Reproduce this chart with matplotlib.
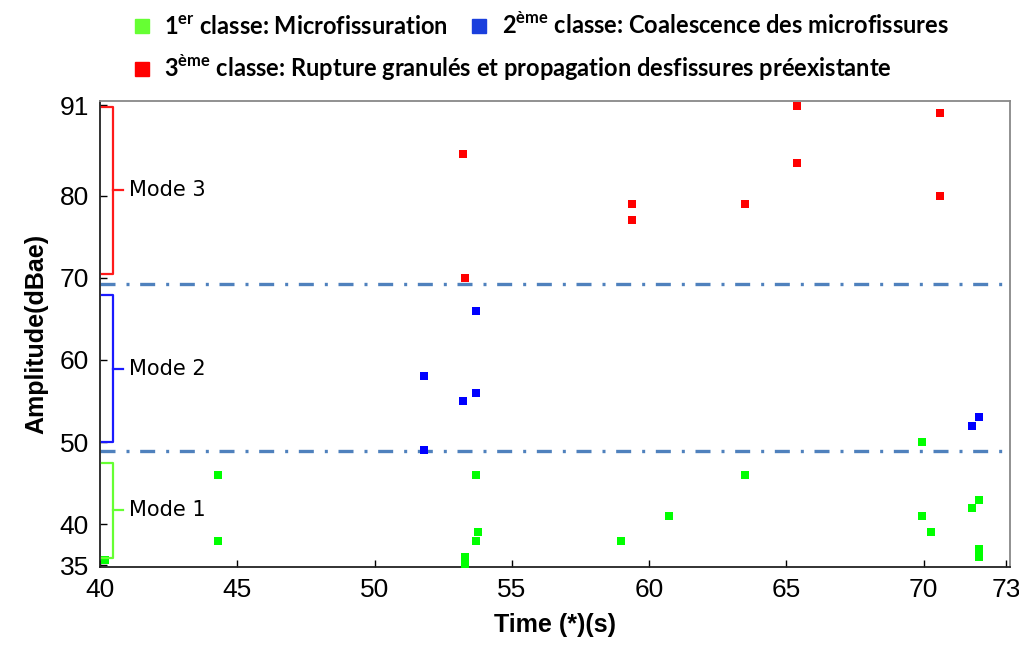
import matplotlib
matplotlib.use("Agg")
import matplotlib.pyplot as plt
from matplotlib.lines import Line2D

# --- data ---
green_x = [40.18, 44.31, 44.31, 53.31, 53.31, 53.71, 53.71, 53.77, 58.99, 60.71,
           63.48, 69.94, 69.94, 70.27, 71.78, 72.03, 72.03, 72.03]
green_y = [35.7, 46, 38, 36, 35.2, 46, 38, 39, 38, 41,
           46, 50, 41, 39, 42, 43, 37, 36]

blue_x = [51.79, 51.79, 53.21, 53.71, 53.71, 71.78, 72.03]
blue_y = [58, 49, 55, 56, 66, 52, 53]

red_x = [53.21, 53.31, 59.38, 59.38, 63.48, 65.40, 65.40, 70.61, 70.61]
red_y = [85, 70, 79, 77, 79, 90.9, 84, 90, 80]

thresholds = [48.9, 69.2]
modes = ['Mode 1', 'Mode 2', 'Mode 3']
mode_ranges = [(35.9, 47.5), (49.95, 67.85), (70.5, 90.8)]
mode_colors = ['#66ff33', '#1a1aff', '#ff1a1a']

yticks = [35, 40, 50, 60, 70, 80, 91]
xticks = [40, 45, 50, 55, 60, 65, 70, 73]

labels = ['1$^{\\mathregular{er}}$ classe: Microfissuration',
          '2$^{\\mathregular{ème}}$ classe: Coalescence des microfissures',
          '3$^{\\mathregular{ème}}$ classe: Rupture granulés et propagation desfissures préexistante']

tick_font = ['Liberation Sans', 'DejaVu Sans']

fig = plt.figure(figsize=(10.2, 6.52), dpi=100)
ax = fig.add_axes([100 / 1020, 85 / 652, 910 / 1020, 466 / 652])

g = ax.scatter(green_x, green_y, marker='s', s=26, color='#00ff00', linewidths=0, zorder=3)
b = ax.scatter(blue_x, blue_y, marker='s', s=26, color='#0000ff', linewidths=0, zorder=3)
r = ax.scatter(red_x, red_y, marker='s', s=26, color='#ff0000', linewidths=0, zorder=3)

for t in thresholds:
    ax.axhline(t, color='#4f81bd', lw=2.4, linestyle=(0, (4.5, 3.3, 0.9, 3.2)), zorder=2)

# braces for the modes
for name, (lo, hi), c in zip(modes, mode_ranges, mode_colors):
    mid = (lo + hi) / 2
    ax.plot([40.07, 40.46, 40.46, 40.07], [hi, hi, lo, lo], color=c, lw=1.6,
            clip_on=False, zorder=4, solid_joinstyle='round')
    ax.plot([40.46, 40.84], [mid, mid], color=c, lw=1.6, clip_on=False, zorder=4)
    ax.text(41.05, mid, name, fontsize=15, va='center', ha='left',
            family=['DejaVu Sans'])

ax.set_xlim(40, 73.15)
ax.set_ylim(34.8, 91.5)
ax.set_xticks(xticks)
ax.set_yticks(yticks)
ax.set_xticklabels([str(v) for v in xticks], family=tick_font, fontsize=19)
ax.set_yticklabels([str(v) for v in yticks], family=tick_font, fontsize=19)
ax.tick_params(direction='in', length=5, width=1, pad=8)

for side in ['left', 'bottom']:
    ax.spines[side].set_color('#222222')
    ax.spines[side].set_linewidth(1.3)
for side in ['top', 'right']:
    ax.spines[side].set_color('#888888')
    ax.spines[side].set_linewidth(1.3)

ax.set_xlabel('Time (*)(s)', fontsize=18, fontweight='bold', family=['Liberation Sans'], labelpad=8)
ax.set_ylabel('Amplitude(dBae)', fontsize=18, fontweight='bold', family=['Liberation Sans'], labelpad=8)

# legend, laid out in two rows as in the reference
hg = Line2D([], [], marker='s', color='#66ff33', ls='', markersize=10)
hb = Line2D([], [], marker='s', color='#1a3fdd', ls='', markersize=10)
hr = Line2D([], [], marker='s', color='#ff0000', ls='', markersize=10)
leg_kw = dict(frameon=False, handlelength=0.7, handletextpad=0.6, columnspacing=1.0,
              prop={'family': 'Lato', 'weight': 'bold', 'size': 17})
leg1 = fig.legend([hg, hb], labels[:2], ncol=2, loc='center left',
                  bbox_to_anchor=(112 / 1020, 1 - 25 / 652), **leg_kw)
leg2 = fig.legend([hr], labels[2:], loc='center left',
                  bbox_to_anchor=(112 / 1020, 1 - 68 / 652), **leg_kw)

fig.savefig('out.png', dpi=100)
